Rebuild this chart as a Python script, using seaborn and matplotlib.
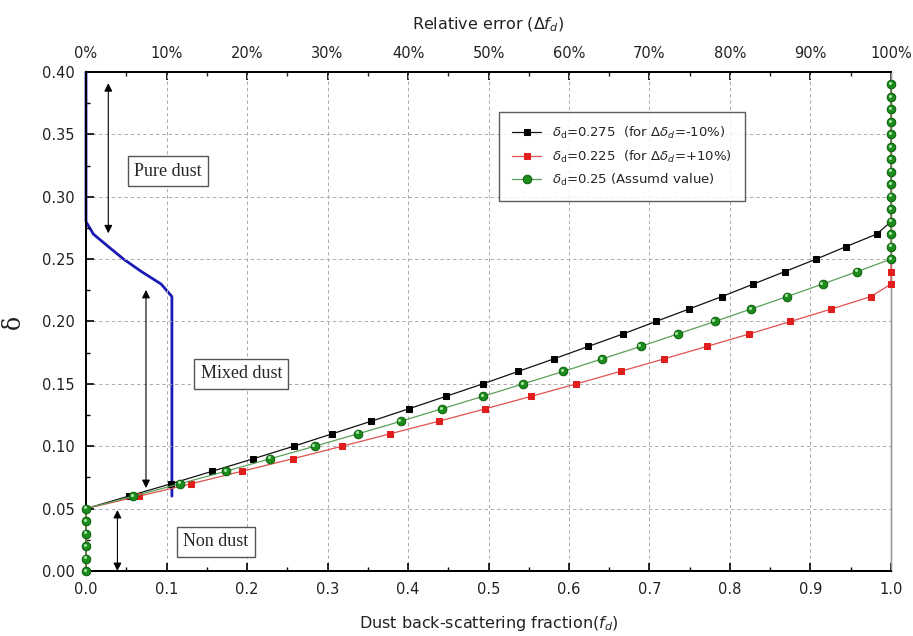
import matplotlib
matplotlib.use("Agg")
import matplotlib.pyplot as plt
import matplotlib.transforms as mtransforms
import seaborn as sns
import numpy as np

# ---------------- data ----------------
delta = [0.00, 0.01, 0.02, 0.03, 0.04, 0.05, 0.06, 0.07, 0.08, 0.09,
         0.10, 0.11, 0.12, 0.13, 0.14, 0.15, 0.16, 0.17, 0.18, 0.19,
         0.20, 0.21, 0.22, 0.23, 0.24, 0.25, 0.26, 0.27, 0.28, 0.29,
         0.30, 0.31, 0.32, 0.33, 0.34, 0.35, 0.36, 0.37, 0.38, 0.39]

fd_black = [0, 0, 0, 0, 0, 0, 0.053, 0.106, 0.157, 0.208,
            0.258, 0.306, 0.354, 0.401, 0.447, 0.493, 0.537, 0.581, 0.624, 0.667,
            0.708, 0.749, 0.790, 0.829, 0.868, 0.907, 0.944, 0.982, 1.0, 1.0,
            1.0, 1.0, 1.0, 1.0, 1.0, 1.0, 1.0, 1.0, 1.0, 1.0]

fd_red = [0, 0, 0, 0, 0, 0, 0.066, 0.131, 0.194, 0.257,
          0.318, 0.378, 0.438, 0.496, 0.553, 0.609, 0.664, 0.718, 0.771, 0.824,
          0.875, 0.926, 0.975, 1.0, 1.0, 1.0, 1.0, 1.0, 1.0, 1.0,
          1.0, 1.0, 1.0, 1.0, 1.0, 1.0, 1.0, 1.0, 1.0, 1.0]

fd_green = [0, 0, 0, 0, 0, 0, 0.059, 0.117, 0.174, 0.229,
            0.284, 0.338, 0.391, 0.442, 0.493, 0.543, 0.593, 0.641, 0.689, 0.735,
            0.781, 0.826, 0.871, 0.915, 0.958, 1.0, 1.0, 1.0, 1.0, 1.0,
            1.0, 1.0, 1.0, 1.0, 1.0, 1.0, 1.0, 1.0, 1.0, 1.0]

delta_err = [0.06, 0.22, 0.23, 0.24, 0.25, 0.26, 0.27, 0.28, 0.40]
rel_err = [10.67, 10.67, 9.33, 6.89, 4.67, 2.78, 0.92, 0.0, 0.0]

labels = [r"$\delta_{\rm d}$=0.275  (for $\Delta\delta_{d}$=-10%)",
          r"$\delta_{\rm d}$=0.225  (for $\Delta\delta_{d}$=+10%)",
          r"$\delta_{\rm d}$=0.25 (Assumd value)"]

xticks = [0.0, 0.1, 0.2, 0.3, 0.4, 0.5, 0.6, 0.7, 0.8, 0.9, 1.0]
yticks = [0.00, 0.05, 0.10, 0.15, 0.20, 0.25, 0.30, 0.35, 0.40]
top_ticks = [0, 10, 20, 30, 40, 50, 60, 70, 80, 90, 100]

# ---------------- style ----------------
sns.set_theme(style="white")
plt.rcParams["font.family"] = ["DejaVu Sans"]
plt.rcParams["mathtext.fontset"] = "dejavusans"

fig = plt.figure(figsize=(9.13, 6.36), dpi=100)
ax = fig.add_axes([0.0942, 0.1022, 0.8817, 0.7846])
ax2 = ax.twiny()
ax.set_zorder(2)
ax2.set_zorder(1)
ax.patch.set_visible(False)
ax2.patch.set_facecolor("white")

# grid
ax.grid(True, color="#ababab", linestyle=(0, (3.5, 3)), linewidth=0.7)
ax.set_axisbelow(True)

# blue relative-error line on top axis
sns.lineplot(x=rel_err, y=delta_err, sort=False, estimator=None, ax=ax2,
             color="#1a1ab4", linewidth=2.0, legend=False, clip_on=False)

# data series
sns.lineplot(x=fd_black, y=delta, sort=False, estimator=None, ax=ax,
             color="#111111", linewidth=0.9, marker="s", markersize=4.5,
             markerfacecolor="black", markeredgecolor="black",
             label=labels[0], clip_on=False, zorder=3)
sns.lineplot(x=fd_red, y=delta, sort=False, estimator=None, ax=ax,
             color="#e05050", linewidth=0.9, marker="s", markersize=4.5,
             markerfacecolor="#e01e1e", markeredgecolor="#e01e1e",
             label=labels[1], clip_on=False, zorder=4)
sns.lineplot(x=fd_green, y=delta, sort=False, estimator=None, ax=ax,
             color="#5aa05a", linewidth=0.9, marker="o", markersize=6.2,
             markerfacecolor="#1c8c1c", markeredgecolor="#0b5e0b",
             markeredgewidth=0.7,
             label=labels[2], clip_on=False, zorder=5)
# small highlight on the green "sphere" markers
hl = mtransforms.offset_copy(ax.transData, fig=fig, x=-1.3, y=1.3, units="dots")
ax.plot(fd_green, delta, linestyle="none", marker="o", markersize=2.2,
        markerfacecolor="#a8e6a8", markeredgewidth=0, transform=hl,
        clip_on=False, zorder=6)

# axes limits / ticks
ax.set_xlim(0, 1.0)
ax.set_ylim(0, 0.40)
ax2.set_xlim(0, 100)
ax2.set_ylim(0, 0.40)

ax.set_xticks(xticks)
ax.set_xticklabels([f"{v:.1f}" for v in xticks])
ax.set_xticks(np.arange(0.05, 1.0, 0.1), minor=True)
ax.set_yticks(yticks)
ax.set_yticklabels([f"{v:.2f}" for v in yticks])
ax.set_yticks(np.arange(0.025, 0.4, 0.05), minor=True)
ax2.set_xticks(top_ticks)
ax2.set_xticklabels([f"{v}%" for v in top_ticks])
ax2.set_xticks(np.arange(5, 100, 10), minor=True)

ax.tick_params(axis="both", which="major", direction="in", length=6, width=1.2,
               labelsize=10.5, pad=8, colors="black", labelcolor="#222222")
ax.tick_params(axis="both", which="minor", direction="in", length=3, width=1.0,
               colors="black")
ax.tick_params(right=False, top=False, which="both")
ax.tick_params(axis="x", bottom=True, which="both")
ax.tick_params(axis="y", left=True, which="both")
ax2.tick_params(axis="x", which="major", direction="in", length=6, width=1.2,
                labelsize=10.5, pad=8, colors="black", labelcolor="#222222")
ax2.tick_params(axis="x", which="minor", direction="in", length=3, width=1.0)
ax2.tick_params(axis="y", left=False, right=False, labelleft=False, labelright=False)

for a in (ax, ax2):
    for s in ("left", "bottom", "top"):
        a.spines[s].set_color("black")
        a.spines[s].set_linewidth(1.4)
    a.spines["right"].set_color("#9a9a9a")
    a.spines["right"].set_linewidth(1.0)

ax.set_xlabel(r"Dust back-scattering fraction($f_d$)", fontsize=11.5,
              color="#222222", labelpad=12)
ax.set_ylabel("δ", fontsize=17, family="DejaVu Serif", color="#222222",
              labelpad=12)
ax2.set_xlabel(r"Relative error ($\Delta f_d$)", fontsize=11.5,
               color="#222222", labelpad=12)

# legend
leg = ax.legend(loc="upper left", bbox_to_anchor=(0.513, 0.92), fontsize=9.5,
                frameon=True, fancybox=False, edgecolor="#333333",
                handlelength=2.2, borderpad=1.0, labelspacing=0.55,
                borderaxespad=0)
leg.get_frame().set_linewidth(1.0)

# region boxes
box = dict(boxstyle="square,pad=0.35", fc="white", ec="#555555", lw=1.0)
ax.text(0.102, 0.3206, "Pure dust", ha="center", va="center", fontsize=13,
        family="Liberation Serif", bbox=box, zorder=7)
ax.text(0.193, 0.158, "Mixed dust", ha="center", va="center", fontsize=13,
        family="Liberation Serif", bbox=box, zorder=7)
ax.text(0.161, 0.0235, "Non dust", ha="center", va="center", fontsize=13,
        family="Liberation Serif", bbox=box, zorder=7)

# double arrows
arr = dict(arrowstyle="<|-|>", color="black", lw=0.8, mutation_scale=12,
           shrinkA=0, shrinkB=0)
ax.annotate("", xy=(0.0277, 0.391), xytext=(0.0277, 0.2707), arrowprops=arr,
            zorder=7)
ax.annotate("", xy=(0.0745, 0.2253), xytext=(0.0745, 0.0665), arrowprops=arr,
            zorder=7)
ax.annotate("", xy=(0.039, 0.0489), xytext=(0.039, 0.0), arrowprops=arr,
            zorder=7)

fig.savefig("out.png", dpi=100)
